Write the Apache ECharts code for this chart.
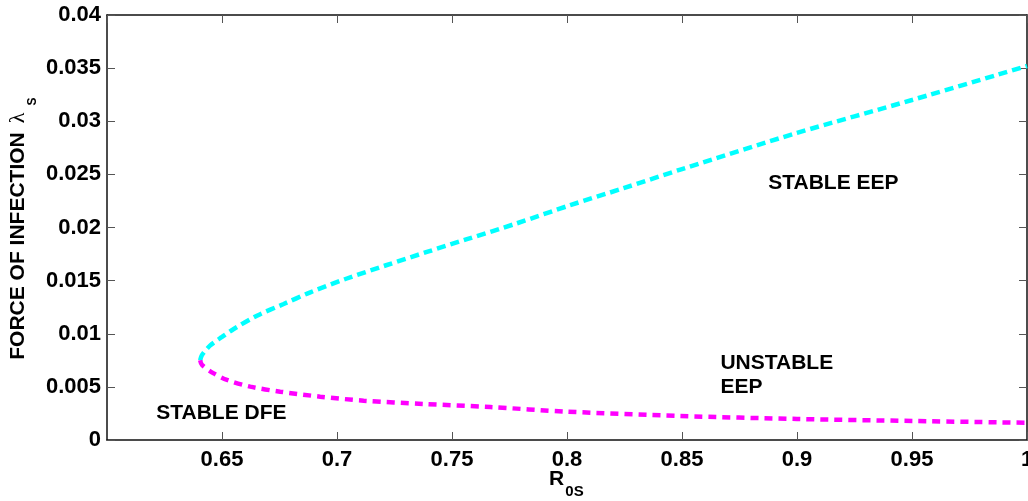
<!DOCTYPE html>
<html>
<head>
<meta charset="utf-8">
<script src="https://cdn.jsdelivr.net/npm/echarts@6/dist/echarts.min.js"></script>
<style>
html,body{margin:0;padding:0;background:#fff;}
#c{width:1028px;height:501px;}
</style>
</head>
<body>
<div id="c"></div>
<script>
// Upper (stable EEP) branch, cyan
var upperR = [0.6405, 0.6413, 0.6449, 0.6500, 0.6551, 0.6652, 0.6768, 0.6884, 0.7043, 0.7217, 0.7391, 0.7565, 0.7783, 0.8014, 0.8246, 0.8500, 0.9000, 0.9500, 1.0];
var upperL = [0.0075, 0.0080, 0.0089, 0.0097, 0.01045, 0.0117, 0.0128, 0.0139, 0.0152, 0.01647, 0.0177, 0.0189, 0.0204, 0.0221, 0.0237, 0.0255, 0.0289, 0.0320, 0.0352];
// Lower (unstable EEP) branch, magenta
var lowerR = [0.6405, 0.6413, 0.6464, 0.6522, 0.6623, 0.6753, 0.6927, 0.7116, 0.7377, 0.7667, 0.8000, 0.8493, 0.9000, 0.9507, 1.0];
var lowerL = [0.0075, 0.00706, 0.00627, 0.00565, 0.00502, 0.00455, 0.00408, 0.00370, 0.00339, 0.00310, 0.00267, 0.00226, 0.00198, 0.00179, 0.00162];
// Region annotations
var annoText = ['STABLE EEP', 'UNSTABLE\nEEP', 'STABLE DFE'];
var annoR = [0.8875, 0.8667, 0.6214];
var annoL = [0.0242, 0.0061, 0.0025];
// Axis ranges / ticks
var xMin = 0.6, xMax = 1.0, xStep = 0.05;
var yMin = 0, yMax = 0.04, yStep = 0.005;

function zip(a, b) { return a.map(function (v, i) { return [v, b[i]]; }); }

var chart = echarts.init(document.getElementById('c'));
var font = 'Liberation Sans, Arial, Helvetica, sans-serif';
var tickStyle = { show: true, inside: true, length: 8, lineStyle: { color: '#555', width: 1 } };
var lineStyle = { show: true, onZero: false, lineStyle: { color: '#111', width: 1.5 } };

chart.setOption({
  animation: false,
  backgroundColor: '#fff',
  grid: { left: 107, right: 1, top: 15, bottom: 61, containLabel: false, outerBoundsMode: 'none' },
  xAxis: [
    { type: 'value', min: xMin, max: xMax, interval: xStep, position: 'bottom',
      axisLine: lineStyle, axisTick: tickStyle, splitLine: { show: false },
      axisLabel: { showMinLabel: false, hideOverlap: false, margin: 9, color: '#000', fontSize: 22, fontWeight: 'bold', fontFamily: font,
        formatter: function (v) { return String(+v.toFixed(2)); } } },
    { type: 'value', min: xMin, max: xMax, interval: xStep, position: 'top',
      axisLine: lineStyle, axisTick: tickStyle, splitLine: { show: false }, axisLabel: { show: false } }
  ],
  yAxis: [
    { type: 'value', min: yMin, max: yMax, interval: yStep, position: 'left',
      axisLine: lineStyle, axisTick: tickStyle, splitLine: { show: false },
      axisLabel: { margin: 6, color: '#000', fontSize: 22, fontWeight: 'bold', fontFamily: font,
        formatter: function (v) { return String(+v.toFixed(3)); } } },
    { type: 'value', min: yMin, max: yMax, interval: yStep, position: 'right',
      axisLine: lineStyle, axisTick: tickStyle, splitLine: { show: false }, axisLabel: { show: false } }
  ],
  series: [
    { type: 'line', name: 'stable', data: zip(upperR, upperL), smooth: 0.3, showSymbol: false, symbol: 'none',
      lineStyle: { color: '#00FFFF', width: 4.5, type: [9, 5], cap: 'butt' }, z: 3 },
    { type: 'line', name: 'unstable', data: zip(lowerR, lowerL), smooth: 0.3, showSymbol: false, symbol: 'none',
      lineStyle: { color: '#FF00FF', width: 4.5, type: [8, 6], cap: 'butt' }, z: 3 },
    { type: 'scatter', symbolSize: 0, silent: true, itemStyle: { opacity: 1 },
      data: annoText.map(function (t, i) { return { name: t, value: [annoR[i], annoL[i]] }; }),
      label: { show: true, position: 'right', distance: 0, opacity: 1, formatter: function (p) { return p.name; },
        color: '#000', textBorderWidth: 0, fontSize: 21, fontWeight: 'bold', fontFamily: font, lineHeight: 24, align: 'left', verticalAlign: 'middle' } }
  ],
  graphic: [
    { type: 'text', x: 18.5, y: 246, rotation: Math.PI / 2,
      style: { text: 'FORCE OF INFECTION', fill: '#000', font: 'bold 21px ' + font, align: 'center', verticalAlign: 'middle' } },
    { type: 'text', x: 18.5, y: 118, rotation: Math.PI / 2,
      style: { text: 'λ', fill: '#000', font: '22px "Liberation Serif", "DejaVu Serif", serif', align: 'center', verticalAlign: 'middle' } },
    { type: 'text', x: 33, y: 101.5, rotation: Math.PI / 2,
      style: { text: 'S', fill: '#000', font: 'bold 12px ' + font, align: 'center', verticalAlign: 'middle' } },
    { type: 'text', x: 556.5, y: 479.5,
      style: { text: 'R', fill: '#000', font: 'bold 21px ' + font, align: 'center', verticalAlign: 'middle' } },
    { type: 'text', x: 574.5, y: 491.5,
      style: { text: '0S', fill: '#000', font: 'bold 15px ' + font, align: 'center', verticalAlign: 'middle' } }
  ]
});
</script>
</body>
</html>
